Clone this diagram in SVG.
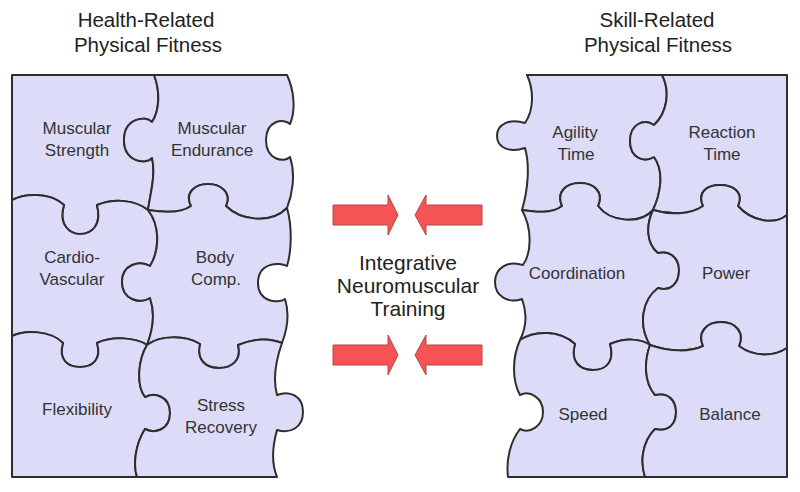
<svg xmlns="http://www.w3.org/2000/svg" width="800" height="492" viewBox="0 0 800 492">
<style>
.pc{fill:#dcdcf9;stroke:#2e2e2e;stroke-width:2;stroke-linejoin:round}
.lb{font-family:"Liberation Sans",Arial,sans-serif;font-size:17px;fill:#333;text-anchor:middle}
.tt{font-family:"Liberation Sans",Arial,sans-serif;font-size:20.5px;fill:#222;text-anchor:middle}
.ct{font-family:"Liberation Sans",Arial,sans-serif;font-size:21px;fill:#222;text-anchor:middle}
.ar{fill:#f65454;stroke:#b54545;stroke-width:1}
</style>
<rect width="800" height="492" fill="#fff"/>
<g id="titles">
<text class="tt" x="146" y="27">Health-Related</text>
<text class="tt" x="148" y="52">Physical Fitness</text>
<text class="tt" x="657" y="27">Skill-Related</text>
<text class="tt" x="658" y="52">Physical Fitness</text>
</g>
<g id="muscular-strength">
<path class="pc" d="M12,75 L154,75 C160,90 160,110 152,122 C146,115 124,118 124,140 C124,162 146,165 152,158 C156,175 150,195 148,210 C135,200 115,198 97,205 C102,225 92,234 80,234 C70,234 58,225 64,205 C50,192 25,193 12,200 Z"/>
<text class="lb" x="77" y="134">Muscular</text>
<text class="lb" x="77" y="156">Strength</text>
</g>
<g id="muscular-endurance">
<path class="pc" d="M154,75 L287,75 C294,90 296,110 290,124 C284,118 266,120 266,140 C266,160 284,163 290,157 C296,175 292,195 287,208 C270,225 240,220 226,206 C232,192 220,184 208,184 C196,184 184,192 191,206 C180,214 160,212 148,210 C150,195 156,175 152,158 C146,165 124,162 124,140 C124,118 146,115 152,122 C160,110 160,90 154,75 Z"/>
<text class="lb" x="212" y="134">Muscular</text>
<text class="lb" x="212" y="156">Endurance</text>
</g>
<g id="cardio-vascular">
<path class="pc" d="M12,200 C25,193 50,192 64,205 C58,225 70,234 80,234 C92,234 102,225 97,205 C115,198 135,200 148,210 C160,225 160,250 150,266 C140,260 122,264 122,282 C122,300 140,304 150,298 C156,315 152,332 147,345 C135,337 112,336 97,343 C102,360 92,367 80,367 C68,367 58,360 63,343 C50,330 25,330 12,336 Z"/>
<text class="lb" x="72" y="263">Cardio-</text>
<text class="lb" x="72" y="285">Vascular</text>
</g>
<g id="body-comp">
<path class="pc" d="M148,210 C160,212 180,214 191,206 C184,192 196,184 208,184 C220,184 232,192 226,206 C240,220 270,225 287,208 C292,225 292,250 287,266 C280,262 258,262 258,283 C258,302 278,304 285,299 C290,315 287,330 282,343 C270,338 255,338 238,345 C242,360 232,368 219,368 C206,368 196,360 200,344 C185,335 160,335 147,345 C152,332 156,315 150,298 C140,304 122,300 122,282 C122,264 140,260 150,266 C160,250 160,225 148,210 Z"/>
<text class="lb" x="215" y="263">Body</text>
<text class="lb" x="216" y="285">Comp.</text>
</g>
<g id="flexibility">
<path class="pc" d="M12,336 C25,330 50,330 63,343 C58,360 68,367 80,367 C92,367 102,360 97,343 C112,336 135,337 147,345 C138,360 136,385 145,397 C155,392 170,396 170,413 C170,430 155,434 145,429 C135,445 133,465 137,477 L12,477 Z"/>
<text class="lb" x="77" y="415">Flexibility</text>
</g>
<g id="stress-recovery">
<path class="pc" d="M147,345 C160,335 185,335 200,344 C196,360 206,368 219,368 C232,368 242,360 238,345 C255,338 270,338 282,343 C276,360 273,380 277,395 C290,390 303,396 303,412 C303,428 290,434 277,430 C272,448 272,465 277,477 L137,477 C133,465 135,445 145,429 C155,434 170,430 170,413 C170,396 155,392 145,397 C136,385 138,360 147,345 Z"/>
<text class="lb" x="221" y="411">Stress</text>
<text class="lb" x="221" y="433">Recovery</text>
</g>
<g id="agility-time">
<path class="pc" d="M527,75 L662,75 C670,90 668,112 654,125 C644,118 630,124 630,141 C630,158 644,163 654,157 C665,172 660,195 653,210 C640,225 610,222 598,206 C604,192 594,183 580,183 C566,183 556,192 562,206 C552,214 535,212 522,210 C528,190 530,165 525,148 C510,153 497,148 497,136 C497,124 510,118 525,123 C534,110 534,90 527,75 Z"/>
<text class="lb" x="575" y="138">Agility</text>
<text class="lb" x="576" y="160">Time</text>
</g>
<g id="reaction-time">
<path class="pc" d="M662,75 L787,75 L787,215 C775,225 752,222 738,206 C744,192 733,185 720,185 C707,185 697,192 703,206 C690,215 670,215 653,210 C660,195 665,172 654,157 C644,163 630,158 630,141 C630,124 644,118 654,125 C668,112 670,90 662,75 Z"/>
<text class="lb" x="722" y="138">Reaction</text>
<text class="lb" x="722" y="160">Time</text>
</g>
<g id="coordination">
<path class="pc" d="M522,210 C535,212 552,214 562,206 C556,192 566,183 580,183 C594,183 604,192 598,206 C610,222 640,225 653,210 C646,225 646,243 658,253 C670,250 679,258 679,270 C679,284 670,292 658,288 C642,300 638,325 650,345 C640,338 625,338 610,344 C615,362 606,370 593,370 C580,370 570,362 575,344 C560,330 535,330 520,340 C525,330 528,315 522,299 C508,304 495,296 495,282 C495,268 508,260 523,265 C532,252 532,228 522,210 Z"/>
<text class="lb" x="577" y="279">Coordination</text>
</g>
<g id="power">
<path class="pc" d="M653,210 C670,215 690,215 703,206 C697,192 707,185 720,185 C733,185 744,192 738,206 C752,222 775,225 787,215 L787,348 C775,356 755,358 739,346 C745,332 735,322 721,322 C707,322 697,332 703,346 C690,352 670,352 650,345 C638,325 642,300 658,288 C670,292 679,284 679,270 C679,258 670,250 658,253 C646,243 646,225 653,210 Z"/>
<text class="lb" x="726" y="279">Power</text>
</g>
<g id="speed">
<path class="pc" d="M520,340 C535,330 560,330 575,344 C570,362 580,370 593,370 C606,370 615,362 610,344 C625,338 640,338 650,345 C644,362 644,382 655,395 C668,392 676,400 676,412 C676,425 668,432 655,429 C642,442 640,462 645,477 L508,477 C506,460 510,442 520,429 C530,434 543,426 543,412 C543,398 530,390 520,395 C512,380 512,358 520,340 Z"/>
<text class="lb" x="583" y="420">Speed</text>
</g>
<g id="balance">
<path class="pc" d="M650,345 C670,352 690,352 703,346 C697,332 707,322 721,322 C735,322 745,332 739,346 C755,358 775,356 787,348 L787,477 L645,477 C640,462 642,442 655,429 C668,432 676,425 676,412 C676,400 668,392 655,395 C644,382 644,362 650,345 Z"/>
<text class="lb" x="730" y="420">Balance</text>
</g>
<g id="integrative-training">
<text class="ct" x="408" y="270">Integrative</text>
<text class="ct" x="408" y="293">Neuromuscular</text>
<text class="ct" x="408" y="316">Training</text>
</g>
<g id="connectors">
<polygon class="ar" points="333,205 388,205 388,195 398,215 388,235 388,225 333,225"/>
<polygon class="ar" points="482,205 426,205 426,195 415,215 426,235 426,225 482,225"/>
<polygon class="ar" points="333,345 388,345 388,335 398,355 388,375 388,365 333,365"/>
<polygon class="ar" points="482,345 426,345 426,335 415,355 426,375 426,365 482,365"/>
</g>
</svg>
